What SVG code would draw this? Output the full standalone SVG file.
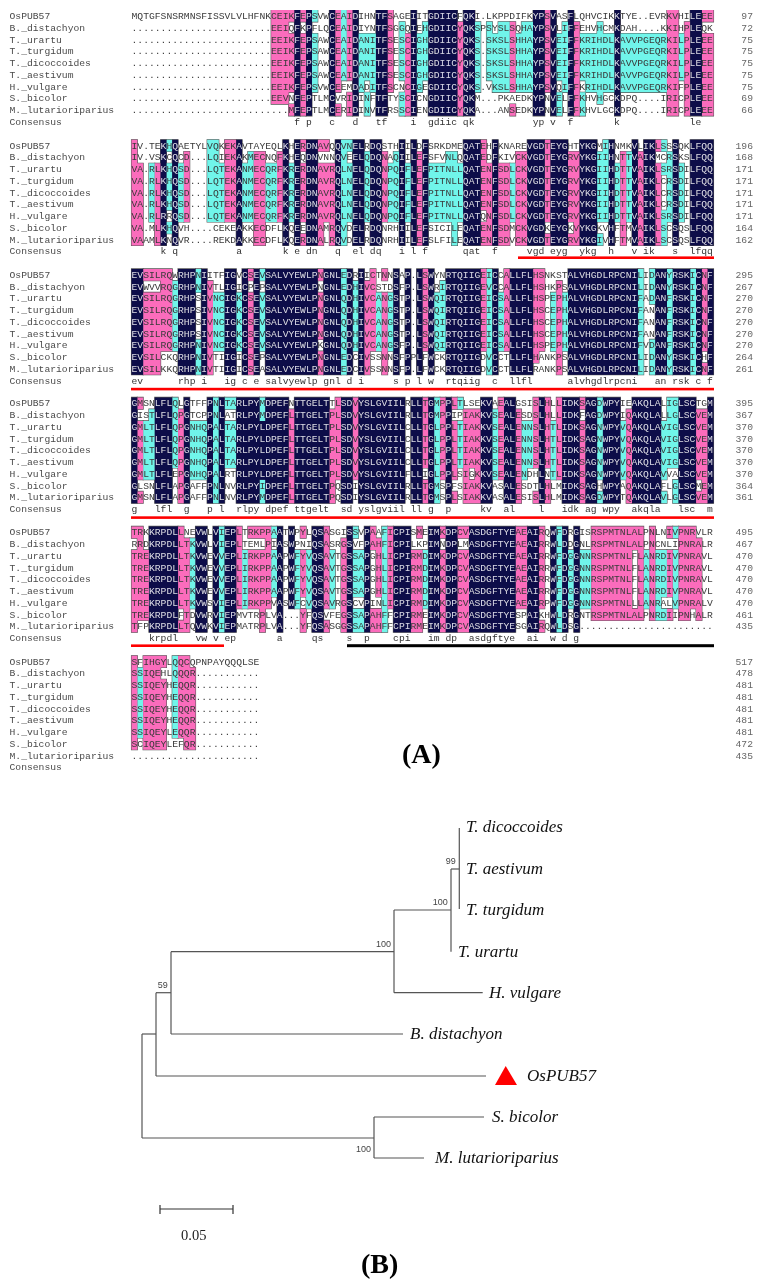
<svg xmlns="http://www.w3.org/2000/svg" width="770" height="1286" viewBox="0 0 770 1286">
<style>
text{font-family:"Liberation Mono",monospace;font-size:9.7px}
.lb{fill:#4a4a4a}
.n{fill:#666;text-anchor:end}
.sq text,.cs{white-space:pre}
.cs{fill:#333}
.gd{fill:#0b0a48}.gp{fill:#fb6cbc}.gc{fill:#6ff5ea}
.ol{fill:#555;stroke:#555;stroke-width:1.1px}
path.r{vector-effect:non-scaling-stroke}
.bar{fill:#f00}
.tree path{fill:none;stroke:#555;stroke-width:1.2}
.sp{font-family:"Liberation Serif",serif;font-style:italic;font-size:17px;fill:#111}
.bs{font-family:"Liberation Sans",sans-serif;font-size:9px;fill:#444}
.pn{font-family:"Liberation Serif",serif;font-weight:bold;font-size:28px;fill:#000}
</style>
<defs>
<filter id="soft" x="0" y="0" width="1" height="1"><feGaussianBlur stdDeviation="0.3"/></filter>
<path id="d1" class="r" transform="translate(131.5,10.1) scale(5.82,11.75)" d="M28 0h1v9h-1zM30 0h1v9h-1zM34 0h1v9h-1zM38 0h1v9h-1zM42 0h2v9h-2zM48 0h1v9h-1zM51 0h5v9h-5zM57 0h2v9h-2zM69 0h2v9h-2zM72 0h1v9h-1zM75 0h1v9h-1zM83 0h1v9h-1zM96 0h2v9h-2z"/>
<path id="p1" class="r" transform="translate(131.5,10.1) scale(5.82,11.75)" d="M24 0h3v8h-3zM27 0h1v1h-1zM27 2h1v5h-1zM27 8h1v1h-1zM29 0h1v1h-1zM29 2h1v7h-1zM35 0h1v7h-1zM35 8h1v1h-1zM37 0h1v6h-1zM37 7h1v2h-1zM44 0h1v7h-1zM47 2h1v7h-1zM56 1h1v8h-1zM65 1h1v6h-1zM65 8h1v1h-1zM71 0h1v7h-1zM76 1h1v8h-1zM92 0h2v9h-2zM95 1h1v8h-1zM98 0h2v1h-2zM98 2h2v7h-2z"/>
<path id="c1" class="r" transform="translate(131.5,10.1) scale(5.82,11.75)" d="M31 0h1v1h-1zM31 2h1v5h-1zM36 0h1v6h-1zM39 2h1v5h-1zM40 2h1v4h-1zM40 7h1v2h-1zM41 2h1v5h-1zM46 1h1v5h-1zM46 7h1v2h-1zM49 2h1v5h-1zM50 1h1v5h-1zM59 1h1v6h-1zM61 1h1v5h-1zM62 2h1v5h-1zM63 1h2v6h-2zM66 2h1v5h-1zM67 1h2v6h-2zM73 2h1v4h-1zM73 7h1v2h-1zM74 1h1v6h-1zM77 2h1v4h-1zM77 7h1v2h-1zM78 2h2v5h-2zM80 1h1v7h-1zM81 2h2v5h-2zM84 2h8v5h-8zM94 2h1v4h-1z"/>
<path id="d2" class="r" transform="translate(131.5,139.8) scale(5.82,11.75)" d="M5 0h1v9h-1zM7 0h1v9h-1zM18 0h1v9h-1zM26 0h1v9h-1zM28 0h1v9h-1zM30 0h2v9h-2zM35 0h1v9h-1zM38 0h2v9h-2zM41 0h2v9h-2zM46 0h1v9h-1zM48 0h1v9h-1zM50 0h1v9h-1zM57 0h3v9h-3zM62 0h1v9h-1zM68 0h3v9h-3zM72 0h3v9h-3zM77 0h3v9h-3zM82 0h1v9h-1zM86 0h1v9h-1zM88 0h2v9h-2zM93 0h1v9h-1zM96 0h4v9h-4z"/>
<path id="p2" class="r" transform="translate(131.5,139.8) scale(5.82,11.75)" d="M0 0h1v9h-1zM1 2h1v7h-1zM4 2h1v7h-1zM9 1h1v6h-1zM16 0h2v7h-2zM21 1h2v8h-2zM25 1h1v6h-1zM29 0h1v1h-1zM29 2h1v5h-1zM29 8h1v1h-1zM32 0h1v1h-1zM32 2h1v7h-1zM33 0h1v1h-1zM33 2h1v5h-1zM34 2h1v7h-1zM43 1h1v6h-1zM49 1h1v8h-1zM60 0h1v6h-1zM60 7h1v2h-1zM61 2h1v7h-1zM63 2h2v7h-2zM66 1h2v8h-2zM71 0h1v7h-1zM71 8h1v1h-1zM75 1h1v6h-1zM75 8h1v1h-1zM76 1h1v8h-1zM84 1h1v8h-1zM87 1h1v8h-1zM90 0h1v1h-1zM90 2h1v7h-1z"/>
<path id="c2" class="r" transform="translate(131.5,139.8) scale(5.82,11.75)" d="M3 2h1v5h-1zM6 0h1v1h-1zM6 2h1v4h-1zM6 7h1v1h-1zM8 2h1v5h-1zM13 0h2v7h-2zM15 2h1v5h-1zM19 2h1v5h-1zM20 1h1v6h-1zM23 2h2v5h-2zM27 2h1v5h-1zM36 0h1v9h-1zM37 0h1v1h-1zM37 2h1v5h-1zM40 1h1v6h-1zM44 2h1v5h-1zM45 1h1v6h-1zM47 2h1v5h-1zM51 2h3v5h-3zM54 1h1v6h-1zM55 1h1v8h-1zM56 2h1v5h-1zM65 2h1v5h-1zM80 1h1v6h-1zM80 8h1v1h-1zM81 0h1v7h-1zM83 2h1v5h-1zM85 1h1v6h-1zM91 0h1v1h-1zM91 2h1v1h-1zM91 6h1v3h-1zM92 1h1v6h-1zM94 2h1v5h-1z"/>
<path id="d3" class="r" transform="translate(131.5,268.9) scale(5.82,11.75)" d="M0 0h2v9h-2zM8 0h3v9h-3zM12 0h1v9h-1zM16 0h2v9h-2zM19 0h1v9h-1zM21 0h1v9h-1zM23 0h9v9h-9zM33 0h3v9h-3zM37 0h1v9h-1zM39 0h1v9h-1zM45 0h1v9h-1zM47 0h1v9h-1zM49 0h1v9h-1zM51 0h1v9h-1zM54 0h6v9h-6zM62 0h1v9h-1zM65 0h4v9h-4zM75 0h12v9h-12zM90 0h2v9h-2zM93 0h3v9h-3zM97 0h1v9h-1zM99 0h1v9h-1z"/>
<path id="p3" class="r" transform="translate(131.5,268.9) scale(5.82,11.75)" d="M2 0h3v1h-3zM2 2h3v7h-3zM5 0h2v7h-2zM13 1h1v8h-1zM20 0h1v1h-1zM20 2h1v7h-1zM32 0h1v1h-1zM32 2h1v4h-1zM32 7h1v2h-1zM40 1h1v8h-1zM41 0h1v7h-1zM43 0h1v1h-1zM43 2h1v7h-1zM50 0h1v7h-1zM60 0h1v7h-1zM64 0h1v7h-1zM69 0h1v8h-1zM70 0h1v7h-1zM73 1h1v8h-1zM98 0h1v7h-1zM98 8h1v1h-1z"/>
<path id="c3" class="r" transform="translate(131.5,268.9) scale(5.82,11.75)" d="M7 1h1v6h-1zM11 0h1v2h-1zM11 6h1v3h-1zM14 2h2v5h-2zM18 2h1v5h-1zM22 0h1v1h-1zM22 2h1v5h-1zM36 0h1v9h-1zM38 1h1v6h-1zM42 2h1v5h-1zM44 2h1v5h-1zM52 2h1v5h-1zM53 1h1v6h-1zM61 0h1v9h-1zM63 2h1v5h-1zM72 2h1v5h-1zM74 2h1v5h-1zM87 0h1v9h-1zM89 0h1v3h-1zM89 6h1v3h-1zM92 0h1v9h-1zM96 0h1v9h-1z"/>
<path id="d4" class="r" transform="translate(131.5,397.4) scale(5.82,11.75)" d="M0 0h1v9h-1zM4 0h3v9h-3zM9 0h1v9h-1zM13 0h1v9h-1zM15 0h1v9h-1zM18 0h4v9h-4zM22 2h1v5h-1zM23 0h4v9h-4zM28 0h6v9h-6zM36 0h2v9h-2zM39 0h8v9h-8zM48 0h2v9h-2zM51 0h1v9h-1zM54 0h1v9h-1zM60 0h2v9h-2zM64 0h2v9h-2zM70 0h1v9h-1zM74 0h3v9h-3zM78 0h2v9h-2zM81 0h3v9h-3zM86 0h5v9h-5zM94 0h3v9h-3zM99 0h1v9h-1z"/>
<path id="p4" class="r" transform="translate(131.5,397.4) scale(5.82,11.75)" d="M1 0h1v1h-1zM1 2h1v5h-1zM1 8h1v1h-1zM8 1h1v8h-1zM27 1h1v8h-1zM34 1h1v8h-1zM35 0h1v7h-1zM38 0h1v7h-1zM50 0h1v6h-1zM50 7h1v2h-1zM53 0h1v7h-1zM55 0h1v1h-1zM55 2h1v5h-1zM55 8h1v1h-1zM57 1h1v8h-1zM58 1h1v5h-1zM58 7h1v2h-1zM59 1h1v8h-1zM63 0h1v7h-1zM66 1h1v8h-1zM69 0h1v6h-1zM69 8h1v1h-1zM71 0h1v6h-1zM71 7h1v2h-1zM73 0h1v7h-1zM77 0h1v1h-1zM77 2h1v7h-1zM85 1h1v8h-1zM97 1h1v6h-1zM97 8h1v1h-1zM98 1h1v8h-1z"/>
<path id="c4" class="r" transform="translate(131.5,397.4) scale(5.82,11.75)" d="M2 2h1v5h-1zM3 1h1v6h-1zM7 0h1v6h-1zM10 2h3v5h-3zM14 0h1v9h-1zM16 0h2v1h-2zM16 2h2v4h-2zM22 0h1v2h-1zM22 7h1v2h-1zM52 0h1v9h-1zM56 0h1v1h-1zM56 2h1v4h-1zM62 1h1v6h-1zM67 2h1v5h-1zM68 2h1v4h-1zM72 2h1v5h-1zM80 0h1v7h-1zM80 8h1v1h-1zM84 2h1v5h-1zM91 2h1v5h-1zM91 8h1v1h-1zM92 0h1v6h-1zM93 0h1v6h-1zM93 7h1v2h-1z"/>
<path id="d5" class="r" transform="translate(131.5,526.4) scale(5.82,11.75)" d="M3 0h5v9h-5zM11 0h2v9h-2zM14 0h1v9h-1zM16 0h2v9h-2zM25 0h1v9h-1zM27 0h1v7h-1zM31 0h2v9h-2zM37 0h1v9h-1zM40 0h1v9h-1zM45 0h3v9h-3zM51 0h2v9h-2zM54 0h2v9h-2zM58 0h8v9h-8zM68 0h2v9h-2zM72 0h1v9h-1zM74 0h1v9h-1zM76 0h1v9h-1z"/>
<path id="p5" class="r" transform="translate(131.5,526.4) scale(5.82,11.75)" d="M0 0h1v1h-1zM0 2h1v7h-1zM1 0h1v8h-1zM2 2h1v6h-1zM8 0h1v7h-1zM8 8h1v1h-1zM9 1h1v8h-1zM18 0h1v7h-1zM20 0h2v1h-2zM20 2h2v5h-2zM22 0h1v1h-1zM22 2h1v7h-1zM23 0h1v7h-1zM29 0h1v1h-1zM29 2h1v4h-1zM29 7h1v2h-1zM33 0h1v7h-1zM33 8h1v1h-1zM36 1h1v8h-1zM41 0h1v2h-1zM41 7h1v2h-1zM42 1h1v5h-1zM42 7h1v2h-1zM44 0h1v7h-1zM48 2h1v7h-1zM49 0h1v1h-1zM49 2h1v7h-1zM53 0h1v1h-1zM53 2h1v7h-1zM56 0h2v1h-2zM56 2h2v7h-2zM66 0h2v7h-2zM70 0h1v7h-1zM70 8h1v1h-1zM79 0h7v8h-7zM86 0h1v2h-1zM86 7h1v1h-1zM87 0h1v8h-1zM89 0h1v8h-1zM92 0h1v1h-1zM92 2h1v4h-1zM92 7h1v1h-1zM94 0h2v8h-2zM96 0h1v7h-1zM97 1h1v7h-1z"/>
<path id="c5" class="r" transform="translate(131.5,526.4) scale(5.82,11.75)" d="M10 1h1v6h-1zM15 0h1v9h-1zM19 2h1v5h-1zM24 0h1v1h-1zM24 2h1v4h-1zM28 2h1v5h-1zM30 2h1v5h-1zM34 2h1v5h-1zM38 0h1v1h-1zM38 2h1v4h-1zM38 7h1v2h-1zM39 2h1v4h-1zM39 7h1v2h-1zM43 0h1v9h-1zM50 2h1v5h-1zM73 0h1v9h-1zM75 2h1v5h-1zM77 2h2v5h-2zM88 2h1v5h-1zM90 2h1v6h-1zM91 2h1v4h-1zM91 7h1v1h-1zM93 0h1v1h-1zM93 2h1v5h-1z"/>
<path id="p6" class="r" transform="translate(131.5,655.8) scale(5.82,11.75)" d="M0 0h1v8h-1zM2 0h3v8h-3zM5 0h1v1h-1zM5 2h1v6h-1zM8 0h1v7h-1zM9 0h1v8h-1zM10 1h1v7h-1z"/>
<path id="c6" class="r" transform="translate(131.5,655.8) scale(5.82,11.75)" d="M1 1h1v6h-1zM7 0h1v7h-1z"/>
<clipPath id="k1"><use href="#d1"/></clipPath>
<clipPath id="k2"><use href="#d2"/></clipPath>
<clipPath id="k3"><use href="#d3"/></clipPath>
<clipPath id="k4"><use href="#d4"/></clipPath>
<clipPath id="k5"><use href="#d5"/></clipPath>
</defs>
<g id="alignment" filter="url(#soft)">
<g id="block1">
<use href="#d1" class="ol"/><use href="#p1" class="ol"/><use href="#c1" class="ol"/>
<use href="#c1" class="gc"/><use href="#p1" class="gp"/><use href="#d1" class="gd"/>
<g fill="#3a3a3a" class="sq"><g id="t1" transform="translate(131.5,19)">
<text y="0">MQTGFSNSRMNSFISSVLVLHFNKCEIKFEPSVWCEAIDIHNTFSAGEIITGDIICFQKI.LKPPDIFKYPSVASFLQHVCIKKTYE..EVRKVHILEEE</text>
<text y="11.75">........................EEIQFKPFLQCEAIDIYNTFSGGQIEHGDIICYQKSPSYSLSQHAYPSVLIFFEHVHCMKDAH....KKIHPLEQK</text>
<text y="23.5">........................EEIKFEPSAWCEAIDANITFSESCIGHGDIICYQKS.SKSLSHHAYPSVEIFFKRIHDLKAVVPGEQRKILPLEEE</text>
<text y="35.25">........................EEIKFEPSAWCEAIDANITFSESCIGHGDIICYQKS.SKSLSHHAYPSVEIFFKRIHDLKAVVPGEQRKILPLEEE</text>
<text y="47">........................EEIKFEPSAWCEAIDANITFSESCIGHGDIICYQKS.SKSLSHHAYPSVEIFFKRIHDLKAVVPGEQRKILPLEEE</text>
<text y="58.75">........................EEIKFEPSAWCEAIDANITFSESCIGHGDIICYQKS.SKSLSHHAYPSVEIFFKRIHDLKAVVPGEQRKILPLEEE</text>
<text y="70.5">........................EEIKFEPSVWCEEMDADITFSCNCIGEGDIICYQKS.VKSLSHHAYPSVQIFFKRIHDLKAVVPGEQRKIFPLEEE</text>
<text y="82.25">........................EEVNFEPTLMCVRIDINFTFTYSCICNGDIICYQKM...PKAEDKYPNVELFFKHVHGCKDPQ....IRICPLEEE</text>
<text y="94">...........................MFEPTLMCERIDINVTFRSSCIENGDIICYQKA...ANSEDKYPNVELFFKHVLGCKDPQ....IRICPLEEE</text>
</g></g>
<use href="#t1" fill="#d4d4ea" clip-path="url(#k1)"/>
<text class="cs" x="131.5" y="124.75" xml:space="preserve">                            f p   c   d   tf    i  gdiic qk          yp v  f       k            le</text>
</g>
<g id="block2">
<use href="#d2" class="ol"/><use href="#p2" class="ol"/><use href="#c2" class="ol"/>
<use href="#c2" class="gc"/><use href="#p2" class="gp"/><use href="#d2" class="gd"/>
<g fill="#3a3a3a" class="sq"><g id="t2" transform="translate(131.5,148.7)">
<text y="0">IV.TEKHQAETYLVQKEKAVTAYEQLKHERDNAVQQVNELRDQSTHIILDFSRKDMEQATEHFKNAREVGDTEYGHTYKGMIHNMKVLIKLSSSQKLFQQ</text>
<text y="11.75">IV.VSKCQCD...LQIEKAKMECNQFKHEQDNVNNQVEELQDQNAQIILEFSFVNLQQATEDFKIVCKVGDTEYGRVYKGIIHNTTVAIKMCRSKSLFQQ</text>
<text y="23.5">VA.RLKHQSD...LQTEKANMECQRFKRERDNAVRQLNELQDQNPQIFLEFPITNLLQATENFSDLCKVGDTEYGRVYKGIIHDTTVAIKLSRSDILFQQ</text>
<text y="35.25">VA.RLKHQSD...LQTEKANMECQRFKRERDNAVRQLNELQDQNPQIFLEFPITNLLQATENFSDLCKVGDTEYGRVYKGIIHDTTVAIKLCRSDILFQQ</text>
<text y="47">VA.RLKHQSD...LQTEKANMECQRFKRERDNAVRQLNELQDQNPQIFLEFPITNLLQATENFSDLCKVGDTEYGRVYKGIIHDTTVAIKLCRSDILFQQ</text>
<text y="58.75">VA.RLKHQSD...LQTEKANMECQRFKRERDNAVRQLNELQDQNPQIFLEFPITNLLQATENFSDLCKVGDTEYGRVYKGIIHDTTVAIKLCRSDILFQQ</text>
<text y="70.5">VA.RLRRQSD...LQTEKANMECQRFKRERDNAVRQLNELQDQNPQIFLEFPITNLLQATQNFSDLCKVGDTEYGRVYKGIIHDTTVAIKLSRSDILFQQ</text>
<text y="82.25">VA.MLKHQVH....CEKEAKKECDFLKQEEDNAMRQVDELRDQNRHIILEFSICILEQATENFSDMCKVGDKEYGKVYKGKVHFTMVAIKLSCSQSLFQQ</text>
<text y="94">VAAMLKNQVR....REKDAKKECDFLKQERDNALRQVDELRDQNRHIILEFSLFILEQATENFSDVCKVGDTEYGRVYKGIVHFTMVAIKLSCSQSLFQQ</text>
</g></g>
<use href="#t2" fill="#d4d4ea" clip-path="url(#k2)"/>
<text class="cs" x="131.5" y="254.45" xml:space="preserve">     k q          a       k e dn   q  el dq   i l f      qat  f     vgd eyg  ykg  h   v ik   s  lfqq</text>
<rect class="bar" x="518" y="256.4" width="196" height="2.6"/>
</g>
<g id="block3">
<use href="#d3" class="ol"/><use href="#p3" class="ol"/><use href="#c3" class="ol"/>
<use href="#c3" class="gc"/><use href="#p3" class="gp"/><use href="#d3" class="gd"/>
<g fill="#3a3a3a" class="sq"><g id="t3" transform="translate(131.5,277.8)">
<text y="0">EVSILRQWRHPNIITFIGVCSEVSALVYEWLPNGNLEDRIICTNNSAP.LSWYNRTQIIGEICCALLFLHSNKSTALVHGDLRPCNILIDANYRSKICNF</text>
<text y="11.75">EVWVVRQGRHPNIVTLIGICPEPSALVYEWLPNGNLEDHIVCSTDSFP.LSWRIRTQIIGEVCCALLFLHSHKPSALVHGDLRPCNILIDANYRSKICNF</text>
<text y="23.5">EVSILRQGRHPSIVNCIGKCSEVSALVYEWLPNGNLQDHIVCANGSTP.LSWQIRTQIIGEICSALLFLHSPEPHALVHGDLRPCNIFADANFRSKICNF</text>
<text y="35.25">EVSILRQGRHPSIVNCIGKCSEVSALVYEWLPNGNLQDHIVCANGSTP.LSWQIRTQIIGEICSALLFLHSCEPHALVHGDLRPCNIFANANFRSKICNF</text>
<text y="47">EVSILRQGRHPSIVNCIGKCSEVSALVYEWLPNGNLQDHIVCANGSTP.LSWQIRTQIIGEICSALLFLHSCEPHALVHGDLRPCNIFANANFRSKICNF</text>
<text y="58.75">EVSILRQGRHPSIVNCIGKCSEVSALVYEWLPNGNLQDHIVCANGSTP.LSWQIRTQIIGEICSALLFLHSCEPHALVHGDLRPCNIFANANFRSKICNF</text>
<text y="70.5">EVSILRQGRHPNIVNCIGKCSEVSALVYEWLPKGNLQDHIVCANGSFP.LSWQIRTQIIGEICSALLFLHSPEPHALVHGDLRPCNIFVDANFRSKICNF</text>
<text y="82.25">EVSILCKQRHPNIVTIIGICSEPSALVYEWLPNGNLEDCIVSSNNSFPPLFWCKRTQIIGDVCCTLLFLHANKPSALVHGDLRPCNILIDANYRSKICHF</text>
<text y="94">EVSILKKQRHPNIVTIIGICSEASALVYEWLPNGNLEDCIVSSNNSFP.LFWCKRTQIIGDVCCTLLFLRANKPSALVHGDLRPCNILIDANYRSKICNF</text>
</g></g>
<use href="#t3" fill="#d4d4ea" clip-path="url(#k3)"/>
<text class="cs" x="131.5" y="383.55" xml:space="preserve">ev      rhp i   ig c e salvyewlp gnl d i     s p l w  rtqiig  c  llfl      alvhgdlrpcni   an rsk c f</text>
<rect class="bar" x="131" y="387.8" width="583" height="2.6"/>
</g>
<g id="block4">
<use href="#d4" class="ol"/><use href="#p4" class="ol"/><use href="#c4" class="ol"/>
<use href="#c4" class="gc"/><use href="#p4" class="gp"/><use href="#d4" class="gd"/>
<g fill="#3a3a3a" class="sq"><g id="t4" transform="translate(131.5,406.3)">
<text y="0">GMSNLFLQLGTFFPNLTARLPYMDPEFNTTGELTTLSDVYSLGVIILRLLTGMPPLTLSEKVAEALGSISLHLLIDKSAGDWPYIEAKQLALIGLSCTGM</text>
<text y="11.75">GISTLFLQPGTCPPNLATRLPYMDPEFLTTGELTPLSDVYSLGVIILRLLTGMPPIPIAKKVSEALESDSLHLLIDKFAGDWPYIQAKQLALLGLSCVEM</text>
<text y="23.5">GMLTLFLQPGNHQPALTARLPYLDPEFLTTGELTPLSDVYSLGVIILCLLTGLPPLTIAKKVSEALENNSLHTLIDKSAGNWPYVQAKQLAVIGLSCVEM</text>
<text y="35.25">GMLTLFLQPGNHQPALTARLPYLDPEFLTTGELTPLSDVYSLGVIILCLLTGLPPLTIAKKVSEALENNSLHTLIDKSAGNWPYVQAKQLAVIGLSCVEM</text>
<text y="47">GMLTLFLQPGNHQPALTARLPYLDPEFLTTGELTPLSDVYSLGVIILCLLTGLPPLTIAKKVSEALENNSLHTLIDKSAGNWPYVQAKQLAVIGLSCVEM</text>
<text y="58.75">GMLTLFLQPGNHQPALTARLPYLDPEFLTTGELTPLSDVYSLGVIILCLLTGLPPLTIAKKVSEALENNSLHTLIDKSAGNWPYVQAKQLAVIGLSCVEM</text>
<text y="70.5">GMLTLFLEPGNHQPALRTRLPYLDPEFLTTGELTPLSDVYSLGVIILFLLIGLPPLSIGKKVSEALENDHLNTLIDKSAGNWPYVQAKQLAVVALSCVEM</text>
<text y="82.25">GLSNLFLAPGAFFPNLNVRLPYIDPEFLTTGELTPQSDIYSLGVIILRLLTGMSPFSIAKKVASALESDTLHLMIDKSAGHWPYAQAKQLAFLGLSCMEM</text>
<text y="94">GMSNLFLAPGAFFPNLNVRLPYMDPEFLTTGELTPQSDIYSLGVIILRLLTGMSPLSIAKKVASALESISLHLMIDKSAGDWPYTQAKQLAVLGLSCVEM</text>
</g></g>
<use href="#t4" fill="#d4d4ea" clip-path="url(#k4)"/>
<text class="cs" x="131.5" y="512.05" xml:space="preserve">g   lfl  g   p l  rlpy dpef ttgelt  sd yslgviil ll g  p     kv  al    l   idk ag wpy  akqla   lsc  m</text>
<rect class="bar" x="131" y="516.3" width="583" height="2.6"/>
</g>
<g id="block5">
<use href="#d5" class="ol"/><use href="#p5" class="ol"/><use href="#c5" class="ol"/>
<use href="#c5" class="gc"/><use href="#p5" class="gp"/><use href="#d5" class="gd"/>
<g fill="#3a3a3a" class="sq"><g id="t5" transform="translate(131.5,535.3)">
<text y="0">TRKKRPDLLNEVWLVIEPLTRKPPAATWPYLQSASGISSVPAAFICPISMEIMKDPCVASDGFTYEAEAIRQWFDRGISRSPMTNLALPNLNIVPNRVLR</text>
<text y="11.75">RRDKRPDLLTKVWLVIEPLTEMLPIASWPNIQSASRGSVFPAHFICPILKPIMNDPLMASDGFTYEAEAIRRWLDDGNLRSPMTNLALPNCNLIPNRALR</text>
<text y="23.5">TREKRPDLLTKVWEVVEPLIRKPPAAPWFYVQSAVTGSSAPGHLICPIRMDIMKDPCVASDGFTYEAEAIRRWFDGGNNRSPMTNLFLANRDIVPNRAVL</text>
<text y="35.25">TREKRPDLLTKVWEVVEPLIRKPPAAPWFYVQSAVTGSSAPGHLICPIRMDIMKDPCVASDGFTYEAEAIRRWFDGGNNRSPMTNLFLANRDIVPNRAVL</text>
<text y="47">TREKRPDLLTKVWEVVEPLIRKPPAAPWFYVQSAVTGSSAPGHLICPIRMDIMKDPCVASDGFTYEAEAIRRWFDGGNNRSPMTNLFLANRDIVPNRAVL</text>
<text y="58.75">TREKRPDLLTKVWEVVEPLIRKPPAAPWFYVQSAVTGSSAPGHLICPIRMDIMKDPCVASDGFTYEAEAIRRWFDGGNNRSPMTNLFLANRDIVPNRAVL</text>
<text y="70.5">TREKRPDLLTKVWSVIEPLIRKPPVASWFCVQSAVRGSCVPINLICPIRMDIMKDPCVASDGFTYEAEAIRPWFDGGNNRSPMTNLLLANRALVPNRALV</text>
<text y="82.25">TREKRPDLFTDVWRVIEPMVTRPLVA...YFQSVFEGSSAPAHFFCPIRMEIMKDPCVASDGFTYESPAIKHWLDRGNTRSPMTNLALPNRDIIPNHALR</text>
<text y="94">TFPKRPDLLTQVWKVIEPMATRPLVA...YFQSASGGSSAPAHFFCPIRMEIMKDPCVASDGFTYESGAIRQWLDSG.......................</text>
</g></g>
<use href="#t5" fill="#d4d4ea" clip-path="url(#k5)"/>
<text class="cs" x="131.5" y="641.05" xml:space="preserve">   krpdl   vw v ep       a     qs    s  p    cpi   im dp  asdgftye  ai  w d g</text>
<rect class="bar" x="131" y="644.4" width="93" height="2.6"/>
<rect x="347" y="644.2" width="367" height="3" fill="#000"/>
</g>
<g id="block6">
<use href="#p6" class="ol"/><use href="#c6" class="ol"/>
<use href="#c6" class="gc"/><use href="#p6" class="gp"/>
<g fill="#3a3a3a" class="sq"><g id="t6" transform="translate(131.5,664.7)">
<text y="0">SFIHGYLQQCQPNPAYQQQLSE</text>
<text y="11.75">SSIQEHLQQQR...........</text>
<text y="23.5">SSIQEYHEQQR...........</text>
<text y="35.25">SSIQEYHEQQR...........</text>
<text y="47">SSIQEYHEQQR...........</text>
<text y="58.75">SSIQEYHEQQR...........</text>
<text y="70.5">SSIQEYLEQQR...........</text>
<text y="82.25">SCIQEYLEFQR...........</text>
<text y="94">......................</text>
</g></g>
</g>
<g id="labels">
<text class="lb" x="9.5" y="19">OsPUB57</text><text class="lb" x="9.5" y="30.75">B._distachyon</text><text class="lb" x="9.5" y="42.5">T._urartu</text><text class="lb" x="9.5" y="54.25">T._turgidum</text><text class="lb" x="9.5" y="66">T._dicoccoides</text><text class="lb" x="9.5" y="77.75">T._aestivum</text><text class="lb" x="9.5" y="89.5">H._vulgare</text><text class="lb" x="9.5" y="101.25">S._bicolor</text><text class="lb" x="9.5" y="113">M._lutarioriparius</text><text class="lb" x="9.5" y="124.75">Consensus</text>
<text class="lb" x="9.5" y="148.7">OsPUB57</text><text class="lb" x="9.5" y="160.45">B._distachyon</text><text class="lb" x="9.5" y="172.2">T._urartu</text><text class="lb" x="9.5" y="183.95">T._turgidum</text><text class="lb" x="9.5" y="195.7">T._dicoccoides</text><text class="lb" x="9.5" y="207.45">T._aestivum</text><text class="lb" x="9.5" y="219.2">H._vulgare</text><text class="lb" x="9.5" y="230.95">S._bicolor</text><text class="lb" x="9.5" y="242.7">M._lutarioriparius</text><text class="lb" x="9.5" y="254.45">Consensus</text>
<text class="lb" x="9.5" y="277.8">OsPUB57</text><text class="lb" x="9.5" y="289.55">B._distachyon</text><text class="lb" x="9.5" y="301.3">T._urartu</text><text class="lb" x="9.5" y="313.05">T._turgidum</text><text class="lb" x="9.5" y="324.8">T._dicoccoides</text><text class="lb" x="9.5" y="336.55">T._aestivum</text><text class="lb" x="9.5" y="348.3">H._vulgare</text><text class="lb" x="9.5" y="360.05">S._bicolor</text><text class="lb" x="9.5" y="371.8">M._lutarioriparius</text><text class="lb" x="9.5" y="383.55">Consensus</text>
<text class="lb" x="9.5" y="406.3">OsPUB57</text><text class="lb" x="9.5" y="418.05">B._distachyon</text><text class="lb" x="9.5" y="429.8">T._urartu</text><text class="lb" x="9.5" y="441.55">T._turgidum</text><text class="lb" x="9.5" y="453.3">T._dicoccoides</text><text class="lb" x="9.5" y="465.05">T._aestivum</text><text class="lb" x="9.5" y="476.8">H._vulgare</text><text class="lb" x="9.5" y="488.55">S._bicolor</text><text class="lb" x="9.5" y="500.3">M._lutarioriparius</text><text class="lb" x="9.5" y="512.05">Consensus</text>
<text class="lb" x="9.5" y="535.3">OsPUB57</text><text class="lb" x="9.5" y="547.05">B._distachyon</text><text class="lb" x="9.5" y="558.8">T._urartu</text><text class="lb" x="9.5" y="570.55">T._turgidum</text><text class="lb" x="9.5" y="582.3">T._dicoccoides</text><text class="lb" x="9.5" y="594.05">T._aestivum</text><text class="lb" x="9.5" y="605.8">H._vulgare</text><text class="lb" x="9.5" y="617.55">S._bicolor</text><text class="lb" x="9.5" y="629.3">M._lutarioriparius</text><text class="lb" x="9.5" y="641.05">Consensus</text>
<text class="lb" x="9.5" y="664.7">OsPUB57</text><text class="lb" x="9.5" y="676.45">B._distachyon</text><text class="lb" x="9.5" y="688.2">T._urartu</text><text class="lb" x="9.5" y="699.95">T._turgidum</text><text class="lb" x="9.5" y="711.7">T._dicoccoides</text><text class="lb" x="9.5" y="723.45">T._aestivum</text><text class="lb" x="9.5" y="735.2">H._vulgare</text><text class="lb" x="9.5" y="746.95">S._bicolor</text><text class="lb" x="9.5" y="758.7">M._lutarioriparius</text><text class="lb" x="9.5" y="770.45">Consensus</text>
</g>
<g id="numbers">
<text class="n" x="753" y="19">97</text><text class="n" x="753" y="30.75">72</text><text class="n" x="753" y="42.5">75</text><text class="n" x="753" y="54.25">75</text><text class="n" x="753" y="66">75</text><text class="n" x="753" y="77.75">75</text><text class="n" x="753" y="89.5">75</text><text class="n" x="753" y="101.25">69</text><text class="n" x="753" y="113">66</text>
<text class="n" x="753" y="148.7">196</text><text class="n" x="753" y="160.45">168</text><text class="n" x="753" y="172.2">171</text><text class="n" x="753" y="183.95">171</text><text class="n" x="753" y="195.7">171</text><text class="n" x="753" y="207.45">171</text><text class="n" x="753" y="219.2">171</text><text class="n" x="753" y="230.95">164</text><text class="n" x="753" y="242.7">162</text>
<text class="n" x="753" y="277.8">295</text><text class="n" x="753" y="289.55">267</text><text class="n" x="753" y="301.3">270</text><text class="n" x="753" y="313.05">270</text><text class="n" x="753" y="324.8">270</text><text class="n" x="753" y="336.55">270</text><text class="n" x="753" y="348.3">270</text><text class="n" x="753" y="360.05">264</text><text class="n" x="753" y="371.8">261</text>
<text class="n" x="753" y="406.3">395</text><text class="n" x="753" y="418.05">367</text><text class="n" x="753" y="429.8">370</text><text class="n" x="753" y="441.55">370</text><text class="n" x="753" y="453.3">370</text><text class="n" x="753" y="465.05">370</text><text class="n" x="753" y="476.8">370</text><text class="n" x="753" y="488.55">364</text><text class="n" x="753" y="500.3">361</text>
<text class="n" x="753" y="535.3">495</text><text class="n" x="753" y="547.05">467</text><text class="n" x="753" y="558.8">470</text><text class="n" x="753" y="570.55">470</text><text class="n" x="753" y="582.3">470</text><text class="n" x="753" y="594.05">470</text><text class="n" x="753" y="605.8">470</text><text class="n" x="753" y="617.55">461</text><text class="n" x="753" y="629.3">435</text>
<text class="n" x="753" y="664.7">517</text><text class="n" x="753" y="676.45">478</text><text class="n" x="753" y="688.2">481</text><text class="n" x="753" y="699.95">481</text><text class="n" x="753" y="711.7">481</text><text class="n" x="753" y="723.45">481</text><text class="n" x="753" y="735.2">481</text><text class="n" x="753" y="746.95">472</text><text class="n" x="753" y="758.7">435</text>
</g>
</g>
<text class="pn" x="402" y="763">(A)</text>
<g id="connectors" class="tree">
<path d="M459.3 828V909"/>
<path d="M451 869H459.3"/>
<path d="M451 869V951.7"/>
<path d="M394 910H451"/>
<path d="M394 910V992.7"/>
<path d="M394 992.7H482.7"/>
<path d="M171 951.7H394"/>
<path d="M171 951.7V1034"/>
<path d="M171 1034H403"/>
<path d="M156 992.7H171"/>
<path d="M156 992.7V1076"/>
<path d="M156 1076H486"/>
<path d="M142 1034H156"/>
<path d="M142 1034V1138"/>
<path d="M142 1138H374"/>
<path d="M374 1117V1158"/>
<path d="M374 1117H484"/>
<path d="M374 1158H424"/>
</g>
<g id="support-values">
<text class="bs" x="445.7" y="864">99</text>
<text class="bs" x="432.7" y="905">100</text>
<text class="bs" x="376" y="946.7">100</text>
<text class="bs" x="157.7" y="987.7">59</text>
<text class="bs" x="356" y="1152">100</text>
</g>
<g id="n-dicoccoides"><text class="sp" x="466" y="832">T. dicoccoides</text></g>
<g id="n-aestivum"><text class="sp" x="466" y="874">T. aestivum</text></g>
<g id="n-turgidum"><text class="sp" x="466" y="915">T. turgidum</text></g>
<g id="n-urartu"><text class="sp" x="458" y="957">T. urartu</text></g>
<g id="n-vulgare"><text class="sp" x="489" y="998">H. vulgare</text></g>
<g id="n-distachyon"><text class="sp" x="410" y="1039">B. distachyon</text></g>
<g id="n-ospub57"><polygon points="505.7,1066 517,1085 495,1085" fill="#f00"/><text class="sp" x="527" y="1081">OsPUB57</text></g>
<g id="n-bicolor"><text class="sp" x="492" y="1122">S. bicolor</text></g>
<g id="n-lutarioriparius"><text class="sp" x="435" y="1163">M. lutarioriparius</text></g>
<g id="scale-bar"><path d="M160 1209H233M160 1205V1214M233 1205V1214" fill="none" stroke="#333" stroke-width="1.2"/>
<text x="181" y="1240" style="font-family:'Liberation Serif',serif;font-size:14.5px;fill:#222">0.05</text></g>
<text class="pn" x="361" y="1273">(B)</text>
</svg>
